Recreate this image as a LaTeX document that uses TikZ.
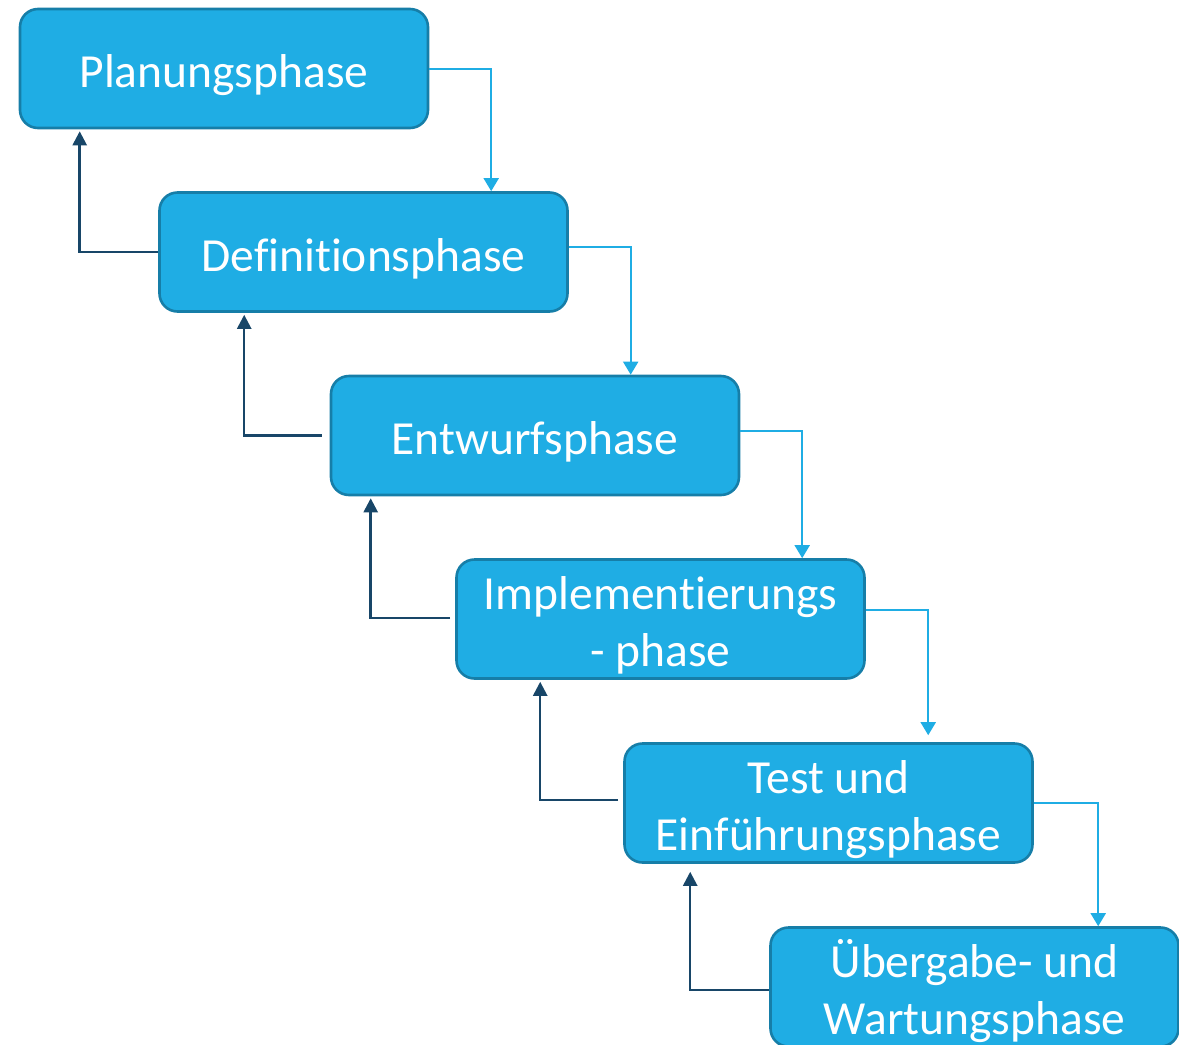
\documentclass[tikz,border=0pt]{standalone}
\usepackage{fontspec}
\setmainfont{Carlito}[Ligatures=NoCommon]
\usetikzlibrary{arrows.meta}
\definecolor{phasefill}{RGB}{31,173,228}
\definecolor{phaseline}{RGB}{22,126,168}
\definecolor{fwdline}{RGB}{31,173,228}
\definecolor{backline}{RGB}{24,70,104}
% strut that sets the first text line a little lower in its box
\newcommand{\phasestrut}{\rule{0pt}{46pt}}
\tikzset{
  phasebox/.style={draw=phaseline, line width=2.6pt, fill=phasefill,
    rounded corners=18pt, minimum width=408pt, minimum height=119pt,
    inner sep=0pt, text=white, align=center,
    font=\fontsize{47.5}{57}\selectfont},
  fwd/.style={draw=fwdline, line width=2pt,
    -{Triangle[width=15pt,length=13pt]}},
  back/.style={draw=backline, line width=2.5pt,
    -{Triangle[width=14pt,length=14pt]}, shorten >=2pt},
}
\begin{document}
\begin{tikzpicture}[x=1pt,y=-1pt]
\useasboundingbox (0,0) rectangle (1179,1045);
% phase boxes
\node[phasebox] (p1) at (224,68.5) {\phasestrut Planungsphase};
\node[phasebox] (p2) at (363.5,252) {\phasestrut Definitionsphase};
\node[phasebox] (p3) at (535,435.5) {\phasestrut Entwurfsphase};
\node[phasebox] (p4) at (660.5,619) {\phasestrut Implementierungs\\- phase};
\node[phasebox] (p5) at (828.5,803) {\phasestrut Test und\\Einführungsphase};
\node[phasebox] (p6) at (974.5,987) {\phasestrut Übergabe- und\\Wartungsphase};
% forward flow, right side
\draw[fwd] (p1.east) -| ([xshift=333pt]p2.north west);
\draw[fwd] ([yshift=5pt]p2.east) -| ([xshift=301pt]p3.north west);
\draw[fwd] ([yshift=5pt]p3.east) -| ([xshift=347pt]p4.north west);
\draw[fwd] ([yshift=9pt]p4.east) -| ([xshift=305pt,yshift=7pt]p5.north west);
\draw[fwd] (p5.east) -| ([xshift=329pt]p6.north west);
% feedback flow, left side
\draw[back] (p2.west) -| ([xshift=61pt]p1.south west);
\draw[back] ([xshift=-8pt]p3.west) -| ([xshift=86pt]p2.south west);
\draw[back] ([xshift=-5pt,yshift=1pt]p4.west) -| ([xshift=41pt]p3.south west);
\draw[back] ([xshift=-5pt,yshift=3pt]p5.west) -| ([xshift=85pt]p4.south west);
\draw[back] ([yshift=-3pt]p6.west) -| ([xshift=67pt,yshift=-6pt]p5.south west);
\end{tikzpicture}
\end{document}
